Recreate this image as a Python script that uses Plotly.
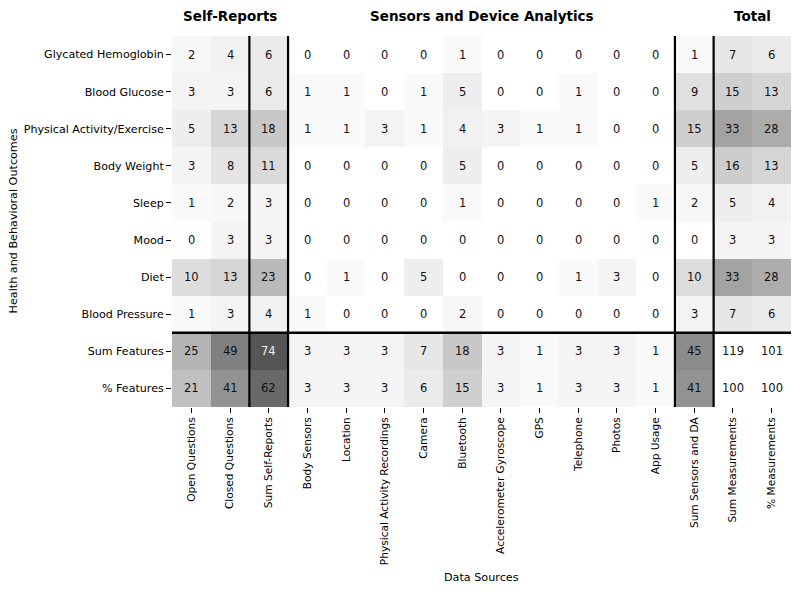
import plotly.graph_objects as go

outcomes = ["Glycated Hemoglobin", "Blood Glucose", "Physical Activity/Exercise", "Body Weight",
            "Sleep", "Mood", "Diet", "Blood Pressure", "Sum Features", "% Features"]
sources = ["Open Questions", "Closed Questions", "Sum Self-Reports", "Body Sensors", "Location",
           "Physical Activity Recordings", "Camera", "Bluetooth", "Accelerometer Gyroscope", "GPS",
           "Telephone", "Photos", "App Usage", "Sum Sensors and DA", "Sum Measurements", "% Measurements"]

glycated_hemoglobin = [2, 4, 6, 0, 0, 0, 0, 1, 0, 0, 0, 0, 0, 1, 7, 6]
blood_glucose = [3, 3, 6, 1, 1, 0, 1, 5, 0, 0, 1, 0, 0, 9, 15, 13]
physical_activity = [5, 13, 18, 1, 1, 3, 1, 4, 3, 1, 1, 0, 0, 15, 33, 28]
body_weight = [3, 8, 11, 0, 0, 0, 0, 5, 0, 0, 0, 0, 0, 5, 16, 13]
sleep = [1, 2, 3, 0, 0, 0, 0, 1, 0, 0, 0, 0, 1, 2, 5, 4]
mood = [0, 3, 3, 0, 0, 0, 0, 0, 0, 0, 0, 0, 0, 0, 3, 3]
diet = [10, 13, 23, 0, 1, 0, 5, 0, 0, 0, 1, 3, 0, 10, 33, 28]
blood_pressure = [1, 3, 4, 1, 0, 0, 0, 2, 0, 0, 0, 0, 0, 3, 7, 6]
sum_features = [25, 49, 74, 3, 3, 3, 7, 18, 3, 1, 3, 3, 1, 45, 119, 101]
pct_features = [21, 41, 62, 3, 3, 3, 6, 15, 3, 1, 3, 3, 1, 41, 100, 100]

group_titles = ["Self-Reports", "Sensors and Device Analytics", "Total"]

values = [glycated_hemoglobin, blood_glucose, physical_activity, body_weight, sleep, mood,
          diet, blood_pressure, sum_features, pct_features]

# cells that are left uncoloured (grand totals)
n_rows, n_cols = len(outcomes), len(sources)
z = []
for i, row in enumerate(values):
    zr = []
    for j, v in enumerate(row):
        if i >= n_rows - 2 and j >= n_cols - 2:
            zr.append(None)
        else:
            zr.append(v)
    z.append(zr)

zmax = 74
gray_pts = [(0, 255), (1, 250), (5, 238), (10, 221), (15, 207), (18, 200), (23, 186), (25, 180),
            (28, 172), (33, 163), (41, 146), (45, 139), (49, 128), (62, 105), (74, 85)]
colorscale = [[v / zmax, f"rgb({g},{g},{g})"] for v, g in gray_pts]

fig = go.Figure(go.Heatmap(
    z=z, x=sources, y=outcomes, zmin=0, zmax=zmax, colorscale=colorscale,
    showscale=False, hoverongaps=False, xgap=0, ygap=0,
))

font = "DejaVu Sans"
for i, row in enumerate(values):
    for j, v in enumerate(row):
        col = "#eeeeee" if (z[i][j] is not None and z[i][j] >= 70) else "#111111"
        fig.add_annotation(x=j, y=i, xref="x", yref="y", text=str(v), showarrow=False,
                           font=dict(family=font, size=11.5, color=col))

# separator lines
for xv in [1.5, 2.5, 12.5, 13.5]:
    fig.add_shape(type="line", xref="x", yref="y", x0=xv, x1=xv, y0=-0.5, y1=n_rows - 0.5,
                  line=dict(color="black", width=2.2))
fig.add_shape(type="line", xref="x", yref="y", x0=-0.5, x1=n_cols - 0.5, y0=7.5, y1=7.5,
              line=dict(color="black", width=2.6))

# group titles
for title, xc in zip(group_titles, [1.0, 7.5, 14.5]):
    fig.add_annotation(x=xc, y=1.0, xref="x", yref="paper", yshift=20, yanchor="middle",
                       text=f"<b>{title}</b>",
                       showarrow=False, font=dict(family=font, size=13.5, color="black"))

fig.add_annotation(x=0.5, y=0, xref="paper", yref="paper", yshift=-170, yanchor="middle",
                   text="Data Sources",
                   showarrow=False, font=dict(family=font, size=11.2, color="black"))
fig.add_annotation(x=0, y=0.5, xref="paper", yref="paper", xshift=-159, xanchor="center",
                   text="Health and Behavioral Outcomes",
                   textangle=-90, showarrow=False, font=dict(family=font, size=11.2, color="black"))

fig.update_xaxes(showgrid=False, zeroline=False, ticks="outside", ticklen=5, tickwidth=1,
                 tickcolor="black", tickangle=-90, tickfont=dict(family=font, size=10.6, color="black"),
                 showline=False, range=[-0.5, n_cols - 0.5])
fig.update_yaxes(showgrid=False, zeroline=False, ticks="outside", ticklen=5, tickwidth=1,
                 tickcolor="black", tickfont=dict(family=font, size=11.1, color="black"),
                 showline=False, range=[n_rows - 0.5, -0.5])

# page body has an 8px margin, so the figure is sized to fit the 799x592 window
fig.update_layout(
    width=791, height=584, margin=dict(l=164, r=8, t=28, b=185, autoexpand=False),
    plot_bgcolor="white", paper_bgcolor="white",
)

fig.write_html("out.html")
